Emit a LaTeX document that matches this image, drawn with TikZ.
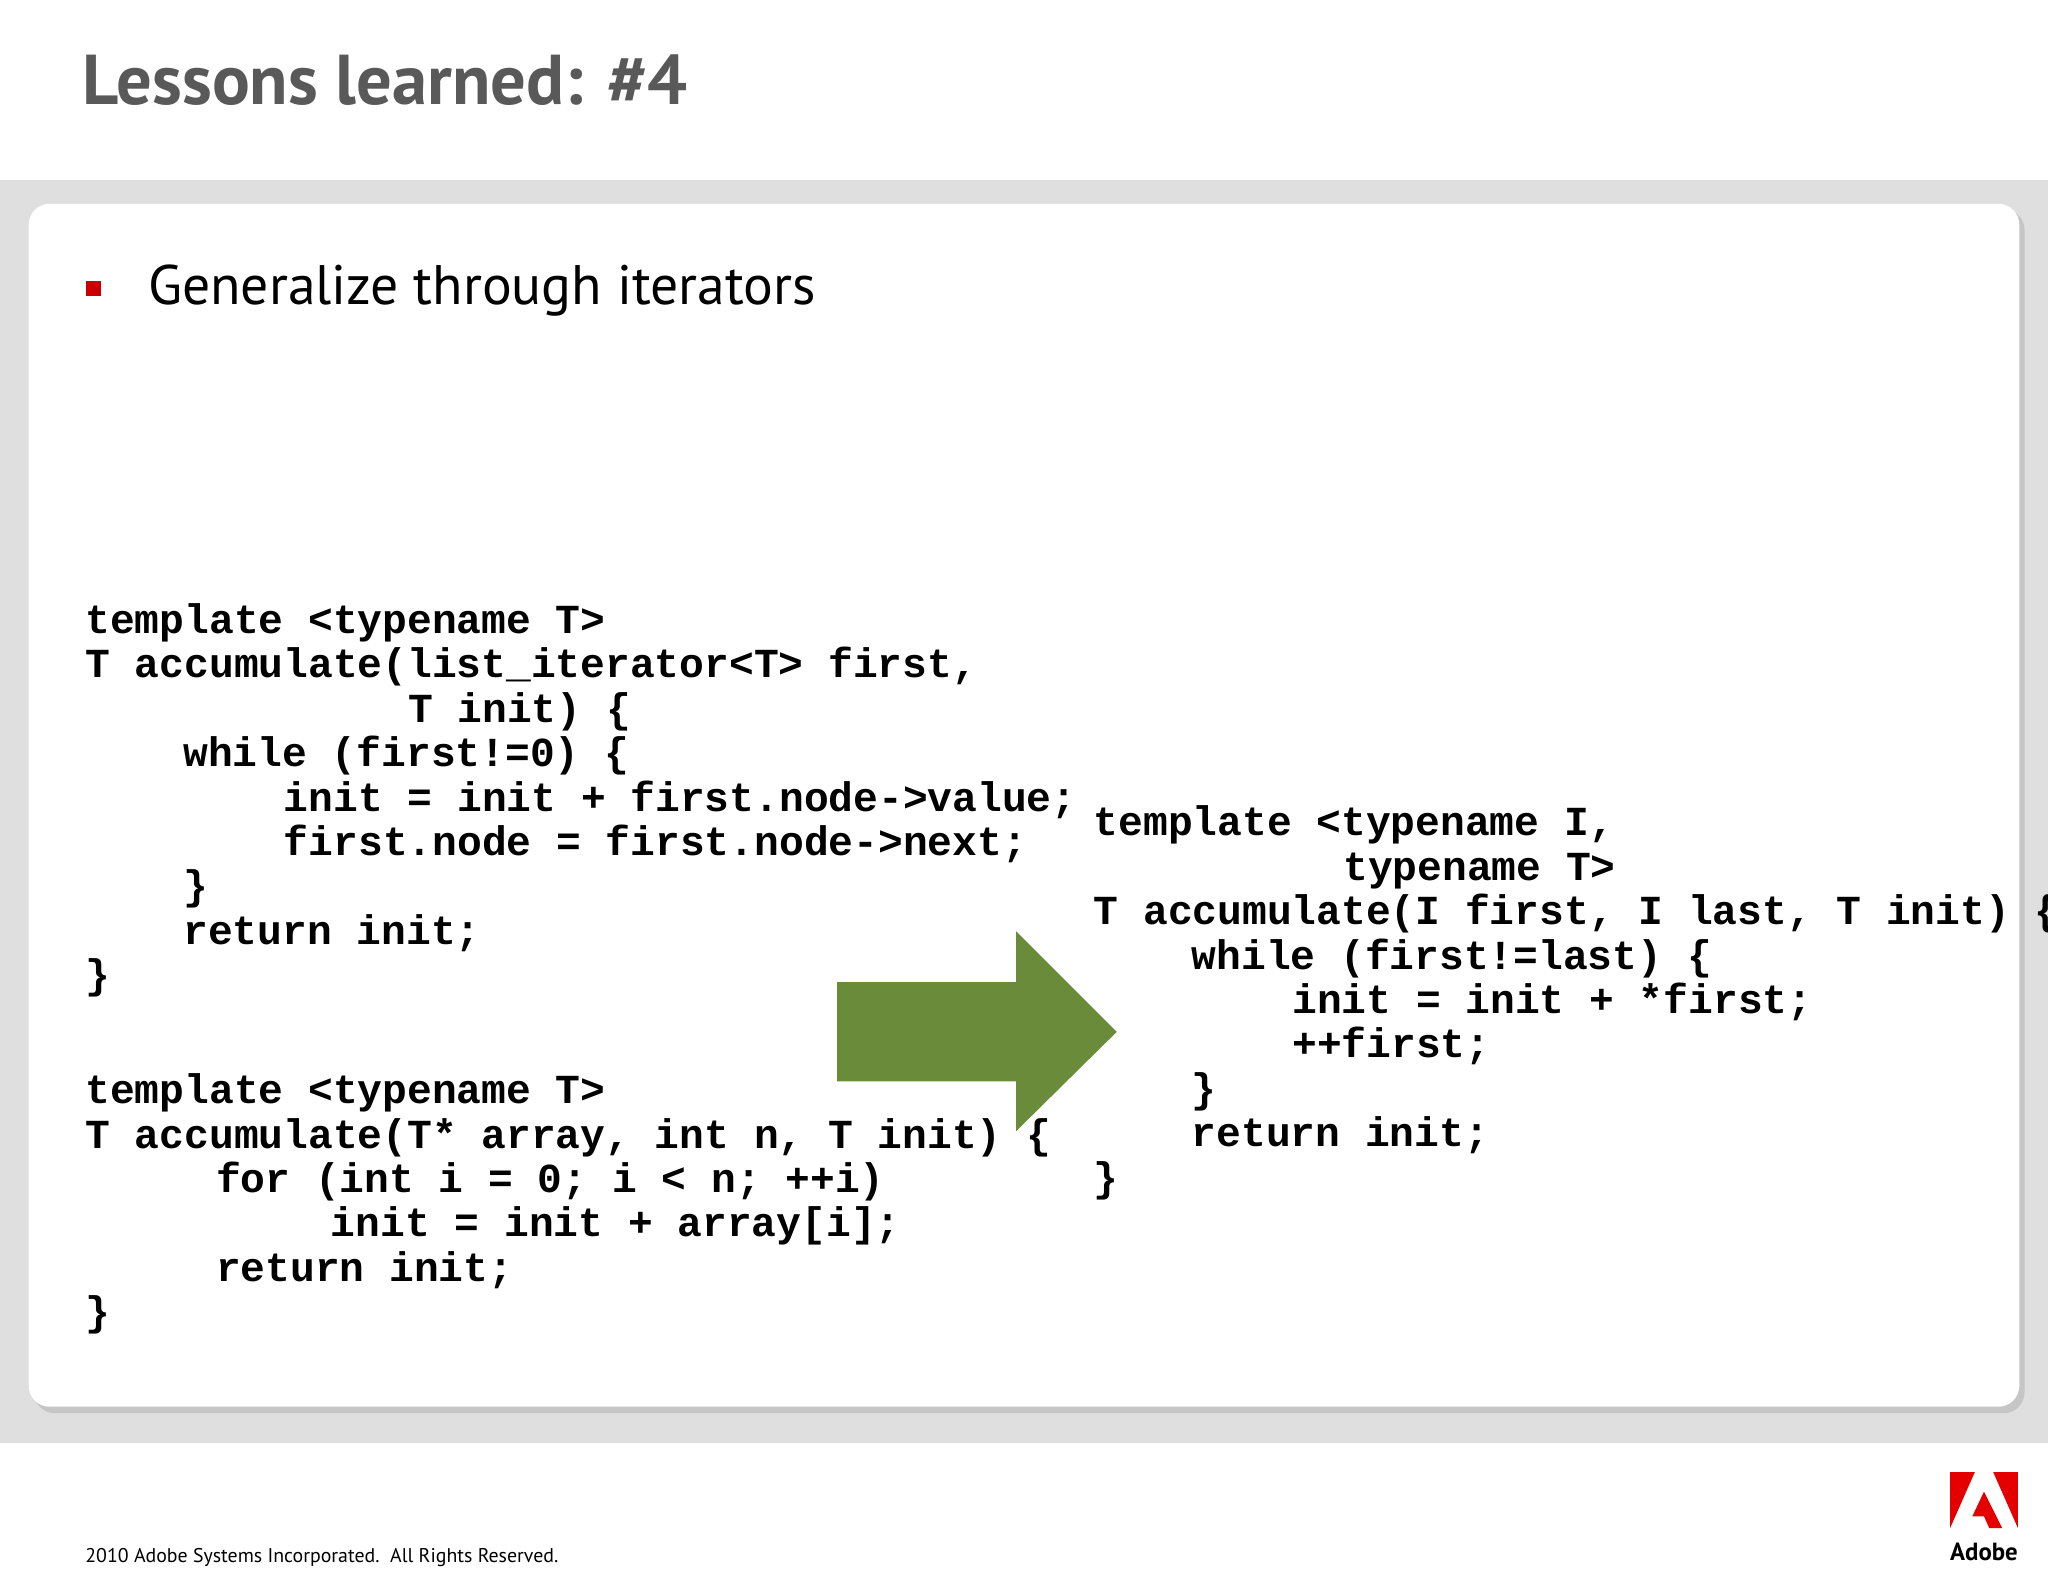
\documentclass[tikz,border=0pt]{standalone}
\usepackage{fontspec}
\setmainfont{PT Sans}
\newfontfamily\codefont{Liberation Mono}
\definecolor{olive}{HTML}{6A8C3A}
\begin{document}
\begin{tikzpicture}[x=0.5pt,y=-0.5pt,
  code/.style={anchor=base west,inner sep=0pt,font=\codefont\bfseries\fontsize{15.8}{17}\selectfont}]
\useasboundingbox (0,0) rectangle (1568,1211);
\fill[white] (0,0) rectangle (1568,1211);
\fill[gray!25] (0,138) rectangle (1568,1105);
\fill[gray!45,rounded corners=8] (26,160) rectangle (1550,1082);
\fill[white,rounded corners=8] (22,156) rectangle (1546,1077);
\node[anchor=base west,inner sep=0pt,text=black!65,font=\bfseries\fontsize{27}{32}\selectfont] (title) at (63,80) {Lessons learned: \#4};
\fill[red!80!black] (66,215) rectangle (77,227);
\node[anchor=base west,inner sep=0pt,font=\fontsize{21.3}{25}\selectfont] (bul) at (113,233) {Generalize through iterators};
% block 1
\node[code] (a1) at (65,485) {template <typename T>};
\node[code] (a2) at (65,519) {T accumulate(list\_iterator<T> first,};
\node[code] (a3) at (312,553) {T init) \{};
\node[code] (a4) at (140,587) {while (first!=0) \{};
\node[code] (a5) at (217,621) {init = init + first.node->value;};
\node[code] (a6) at (217,655) {first.node = first.node->next;};
\node[code] (a7) at (140,689) {\}};
\node[code] (a8) at (140,723) {return init;};
\node[code] (a9) at (65,757) {\}};
% block 2
\node[code] (b1) at (65,845) {template <typename T>};
\node[code] (b2) at (65,879) {T accumulate(T* array, int n, T init) \{};
\node[code] (b3) at (165,913) {for (int i = 0; i < n; ++i)};
\node[code] (b4) at (253,947) {init = init + array[i];};
\node[code] (b5) at (165,981) {return init;};
\node[code] (b6) at (65,1015) {\}};
% block 3
\node[code] (c1) at (837,640) {template <typename I,};
\node[code] (c2) at (1028,674) {typename T>};
\node[code] (c3) at (837,708) {T accumulate(I first, I last, T init) \{};
\node[code] (c4) at (912,742) {while (first!=last) \{};
\node[code] (c5) at (989,776) {init = init + *first;};
\node[code] (c6) at (989,810) {++first;};
\node[code] (c7) at (912,844) {\}};
\node[code] (c8) at (912,878) {return init;};
\node[code] (c9) at (837,912) {\}};
% arrow
\fill[olive] (641,752) -- (778,752) -- (778,713) -- (855,790) -- (778,866) -- (778,828) -- (641,828) -- cycle;
% footer
\node[anchor=base west,inner sep=0pt,font=\fontsize{7.6}{9}\selectfont] (foot) at (65,1196) {2010 Adobe Systems Incorporated.\ \ All Rights Reserved.};
\fill[red!90!black] (1493,1127) -- (1512,1127) -- (1493,1170) -- cycle;
\fill[red!90!black] (1526,1127) -- (1545,1127) -- (1545,1170) -- cycle;
\fill[red!90!black] (1519,1142) -- (1533,1170) -- (1523,1170) -- (1519,1161) -- (1510,1161) -- cycle;
\node[anchor=base,inner sep=0pt,font=\bfseries\fontsize{9.5}{11}\selectfont] (logo) at (1519,1195) {Adobe};
\end{tikzpicture}
\end{document}
